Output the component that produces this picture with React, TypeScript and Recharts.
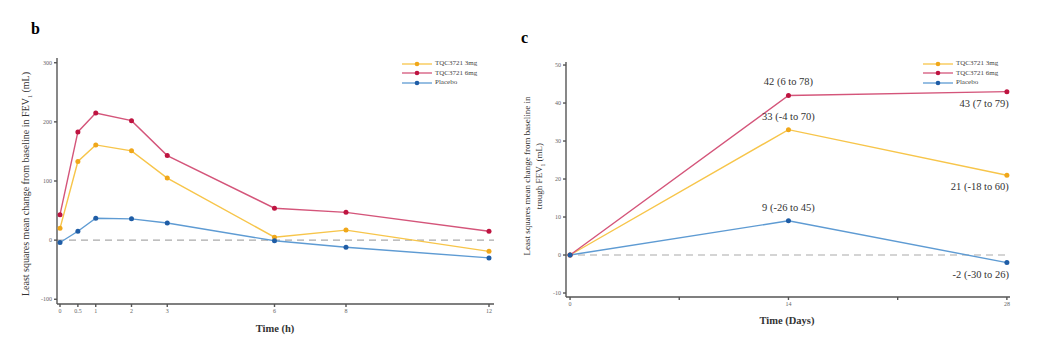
import React from 'react';
import { LineChart, Line, XAxis, YAxis, ReferenceLine, Legend, LabelList } from 'recharts';

// panel b: FEV1 change over 12 hours
const hoursB = [0, 0.5, 1, 2, 3, 6, 8, 12];
const b3mg = [20, 133, 161, 151, 105, 5, 17, -19];
const b6mg = [43, 183, 215, 202, 143, 54, 47, 15];
const bPlacebo = [-4, 15, 37, 36, 29, -1, -12, -30];
const yTicksB = [-100, 0, 100, 200, 300];

// panel c: trough FEV1 over 28 days
const daysC = [0, 14, 28];
const c3mg = [0, 33, 21];
const c3mgLo = [null, -4, -18];
const c3mgHi = [null, 70, 60];
const c6mg = [0, 42, 43];
const c6mgLo = [null, 6, 7];
const c6mgHi = [null, 78, 79];
const cPlacebo = [0, 9, -2];
const cPlaceboLo = [null, -26, -30];
const cPlaceboHi = [null, 45, 26];
const xTicksC = [0, 7, 14, 21, 28];
const yTicksC = [-10, 0, 10, 20, 30, 40, 50];

const seriesNames = ['TQC3721 3mg', 'TQC3721 6mg', 'Placebo'];
const lineColors = ['#F7C54A', '#D4557A', '#5E9BD3'];
const dotColors = ['#F0A71A', '#BE1440', '#1F5DA6'];

const dataB = hoursB.map((h, i) => ({ t: h, s3: b3mg[i], s6: b6mg[i], pl: bPlacebo[i] }));
const dataC = daysC.map((d, i) => ({ t: d, s3: c3mg[i], s6: c6mg[i], pl: cPlacebo[i] }));

const serif = '"Liberation Serif", "Times New Roman", serif';
const tickStyle = { fontSize: 6, fill: '#666', fontFamily: serif };
const axisStroke = '#555';

const keys = ['s3', 's6', 'pl'];

function renderLegend() {
  return (
    <div style={{ fontFamily: serif, fontSize: 7, color: '#444', lineHeight: '9.5px' }}>
      {seriesNames.map((n, i) => (
        <div key={n} style={{ display: 'flex', alignItems: 'center', height: 9.5 }}>
          <svg width={30} height={8} style={{ marginRight: 3 }}>
            <line x1={0} y1={4} x2={30} y2={4} stroke={lineColors[i]} strokeWidth={1.3} />
            <circle cx={15} cy={4} r={2.3} fill={dotColors[i]} />
          </svg>
          <span>{n}</span>
        </div>
      ))}
    </div>
  );
}

function ciLabel(vals: number[], lo: (number | null)[], hi: (number | null)[]) {
  return (props: any) => {
    const { x, y, index } = props;
    if (index === 0) return null;
    const txt = `${vals[index]} (${lo[index]} to ${hi[index]})`;
    const above = index === 1;
    return (
      <text
        x={above ? x : x + 2}
        y={above ? y - 10 : y + 15}
        textAnchor={above ? 'middle' : 'end'}
        fontSize={10.5}
        fontFamily={serif}
        fill="#333"
      >
        {txt}
      </text>
    );
  };
}

const ciData = [
  [c3mg, c3mgLo, c3mgHi],
  [c6mg, c6mgLo, c6mgHi],
  [cPlacebo, cPlaceboLo, cPlaceboHi],
] as const;

export default function App() {
  return (
    <div style={{ position: 'absolute', left: 0, top: 0, width: 1038, height: 345, background: '#fff', fontFamily: serif }}>
      <div style={{ position: 'absolute', left: 31, top: 20, fontSize: 16, fontWeight: 'bold' }}>b</div>
      <div style={{ position: 'absolute', left: 521, top: 29, fontSize: 16, fontWeight: 'bold' }}>c</div>

      {/* panel b */}
      <div style={{ position: 'absolute', left: 0, top: 0 }}>
        <LineChart width={520} height={345} data={dataB} margin={{ top: 58, right: 26, bottom: 11, left: 0 }}>
          <XAxis
            dataKey="t"
            type="number"
            domain={[-0.084, 12.14]}
            ticks={hoursB}
            tick={tickStyle}
            tickSize={3}
            stroke={axisStroke}
            strokeWidth={1.4}
            height={30}
            interval={0}
            allowDataOverflow
          />
          <YAxis
            type="number"
            domain={[-108, 308]}
            ticks={yTicksB}
            tick={tickStyle}
            tickSize={3}
            stroke={axisStroke}
            strokeWidth={1.4}
            width={57}
            interval={0}
            allowDataOverflow
          />
          <ReferenceLine y={0} stroke="#AAA" strokeDasharray="7 5" strokeWidth={1.2} />
          {keys.map((k, i) => (
            <Line
              key={k}
              dataKey={k}
              name={seriesNames[i]}
              type="linear"
              stroke={lineColors[i]}
              strokeWidth={1.4}
              dot={{ r: 2.5, fill: dotColors[i], stroke: 'none' }}
              isAnimationActive={false}
            />
          ))}
          <Legend
            content={renderLegend}
            layout="horizontal"
            verticalAlign="middle"
            align="center"
            wrapperStyle={{ left: 402, top: 59, width: 110 }}
          />
        </LineChart>
      </div>
      <div
        style={{
          position: 'absolute',
          left: 26 - 140,
          top: 184 - 7,
          width: 280,
          height: 14,
          lineHeight: '14px',
          textAlign: 'center',
          fontSize: 10,
          color: '#333',
          transform: 'rotate(-90deg)',
        }}
      >
        Least squares mean change from baseline in FEV<sub style={{ fontSize: 6 }}>1</sub> (mL)
      </div>
      <div style={{ position: 'absolute', left: 235, top: 323, width: 80, textAlign: 'center', fontSize: 10.5, fontWeight: 'bold', color: '#333' }}>
        Time (h)
      </div>

      {/* panel c */}
      <div style={{ position: 'absolute', left: 520, top: 0 }}>
        <LineChart width={518} height={345} data={dataC} margin={{ top: 62, right: 28, bottom: 18, left: 0 }}>
          <XAxis
            dataKey="t"
            type="number"
            domain={[-0.26, 28.2]}
            ticks={xTicksC}
            tickFormatter={(v: number) => (v % 14 === 0 ? String(v) : '')}
            tick={tickStyle}
            tickSize={3}
            stroke={axisStroke}
            strokeWidth={1.4}
            height={30}
            interval={0}
            allowDataOverflow
          />
          <YAxis
            type="number"
            domain={[-11.05, 50.8]}
            ticks={yTicksC}
            tick={tickStyle}
            tickSize={3}
            stroke={axisStroke}
            strokeWidth={1.4}
            width={46}
            interval={0}
            allowDataOverflow
          />
          <ReferenceLine y={0} stroke="#AAA" strokeDasharray="7 5" strokeWidth={1.2} />
          {keys.map((k, i) => (
            <Line
              key={k}
              dataKey={k}
              name={seriesNames[i]}
              type="linear"
              stroke={lineColors[i]}
              strokeWidth={1.4}
              dot={{ r: 2.5, fill: dotColors[i], stroke: 'none' }}
              isAnimationActive={false}
            >
              <LabelList
                dataKey={k}
                content={ciLabel(ciData[i][0] as any, ciData[i][1] as any, ciData[i][2] as any)}
              />
            </Line>
          ))}
          <Legend
            content={renderLegend}
            layout="horizontal"
            verticalAlign="middle"
            align="center"
            wrapperStyle={{ left: 403, top: 59, width: 110 }}
          />
        </LineChart>
      </div>
      <div
        style={{
          position: 'absolute',
          left: 533 - 120,
          top: 176 - 12,
          width: 240,
          height: 24,
          lineHeight: '12px',
          textAlign: 'center',
          fontSize: 9,
          color: '#333',
          transform: 'rotate(-90deg)',
        }}
      >
        Least squares mean change from baseline in
        <br />
        trough FEV<sub style={{ fontSize: 5.5 }}>1</sub> (mL)
      </div>
      <div style={{ position: 'absolute', left: 737, top: 315, width: 100, textAlign: 'center', fontSize: 10.5, fontWeight: 'bold', color: '#333' }}>
        Time (Days)
      </div>
    </div>
  );
}
